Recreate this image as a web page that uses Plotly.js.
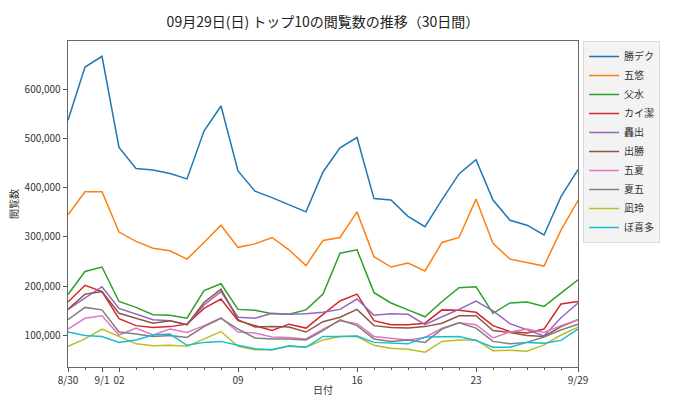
<!DOCTYPE html>
<html>
<head>
<meta charset="utf-8">
<script src="https://cdn.plot.ly/plotly-3.0.1.min.js"></script>
<style>html,body{margin:0;padding:0;background:#fff;}#chart{width:680px;height:408px;}</style>
</head>
<body>
<div id="chart"></div>
<script>
const days = ['8/30','8/31','9/1','9/2','9/3','9/4','9/5','9/6','9/7','9/8','9/9','9/10','9/11','9/12','9/13','9/14','9/15','9/16','9/17','9/18','9/19','9/20','9/21','9/22','9/23','9/24','9/25','9/26','9/27','9/28','9/29'];
const tickIdx = [0, 2, 3, 10, 17, 24, 30];
const tickLabels = ['8/30', '9/1', '02', '09', '16', '23', '9/29'];

const names = ['勝デク','五悠','父水','カイ潔','轟出','出勝','五夏','夏五','凪玲','ぼ喜多'];
const colors = ['#1f77b4','#ff7f0e','#2ca02c','#d62728','#9467bd','#8c564b','#e377c2','#7f7f7f','#bcbd22','#17becf'];

const s_katsudeku = [537000,645000,667000,482000,439000,436000,429000,418000,515000,566000,434000,393000,380000,365000,351000,432000,481000,502000,378000,375000,342000,321000,376000,428000,457000,375000,334000,324000,304000,382000,437000];
const s_goyu = [345000,392000,392000,310000,291000,277000,272000,255000,289000,324000,279000,286000,299000,274000,242000,293000,299000,351000,260000,239000,247000,231000,289000,299000,377000,287000,255000,248000,241000,314000,374000];
const s_fusui = [183000,230000,239000,169000,157000,142000,141000,135000,191000,205000,153000,151000,144000,143000,152000,184000,267000,274000,187000,166000,152000,138000,169000,197000,199000,145000,166000,168000,159000,186000,213000];
const s_kaiisagi = [168000,202000,189000,134000,120000,116000,118000,123000,155000,174000,130000,120000,110000,123000,115000,143000,170000,184000,130000,122000,122000,125000,152000,151000,147000,120000,108000,105000,113000,164000,169000];
const s_todode = [153000,176000,199000,155000,143000,132000,130000,122000,162000,189000,137000,135000,145000,143000,144000,147000,153000,174000,141000,144000,143000,122000,138000,153000,170000,150000,124000,111000,99000,136000,166000];
const s_dekatsu = [153000,184000,189000,145000,135000,125000,130000,122000,167000,194000,132000,117000,118000,117000,107000,128000,137000,153000,120000,116000,115000,118000,125000,140000,140000,110000,106000,100000,98000,118000,132000];
const s_gonatsu = [113000,135000,140000,101000,115000,101000,113000,106000,120000,136000,107000,105000,97000,96000,93000,113000,130000,124000,98000,95000,91000,96000,115000,126000,122000,95000,107000,113000,106000,120000,132000];
const s_natsugo = [132000,157000,152000,107000,103000,98000,100000,96000,118000,135000,113000,95000,93000,93000,91000,110000,132000,120000,93000,88000,91000,86000,113000,126000,115000,88000,83000,86000,97000,111000,123000];
const s_nagirei = [78000,93000,113000,98000,83000,79000,80000,78000,93000,108000,78000,71000,71000,78000,76000,91000,98000,98000,80000,74000,72000,66000,88000,91000,91000,69000,70000,68000,81000,101000,117000];
const s_bokita = [107000,100000,98000,86000,91000,101000,103000,80000,86000,88000,80000,73000,71000,79000,76000,98000,98000,99000,86000,84000,83000,97000,98000,98000,90000,76000,76000,86000,84000,90000,113000];

const seriesList = [s_katsudeku,s_goyu,s_fusui,s_kaiisagi,s_todode,s_dekatsu,s_gonatsu,s_natsugo,s_nagirei,s_bokita];
const xIdx = days.map((d, i) => i);

const traces = seriesList.map((vals, k) => ({
  type: 'scatter',
  mode: 'lines',
  x: xIdx,
  y: vals,
  text: days,
  name: names[k],
  line: {color: colors[k], width: 1.5},
  hovertemplate: '%{text}: %{y:,}<extra>' + names[k] + '</extra>'
}));

const fontFam = '"Noto Sans CJK JP", "Noto Sans", sans-serif';

const layout = {
  width: 680,
  height: 408,
  margin: {l: 68, r: 102, t: 41, b: 41},
  paper_bgcolor: '#ffffff',
  plot_bgcolor: '#ffffff',
  font: {family: fontFam, size: 10, color: '#333'},
  title: {
    text: '09月29日(日) トップ10の閲覧数の推移（30日間）',
    font: {family: fontFam, size: 14, color: '#222'},
    x: 0.475, xanchor: 'center', y: 0.945, yanchor: 'middle'
  },
  xaxis: {
    range: [0, 30],
    tickvals: tickIdx,
    ticktext: tickLabels,
    ticks: 'outside', ticklen: 4, tickwidth: 1, tickcolor: '#555',
    minor: {dtick: 1, tick0: 0, ticks: 'outside', ticklen: 2, tickcolor: '#555', showgrid: false},
    showgrid: false, zeroline: false,
    showline: true, linecolor: '#666', linewidth: 1.3, mirror: true,
    tickfont: {size: 10, color: '#333'},
    title: {text: '日付', font: {size: 10, color: '#333'}, standoff: 0}
  },
  yaxis: {
    range: [36000, 698000],
    tickvals: [100000, 200000, 300000, 400000, 500000, 600000],
    tickformat: ',d',
    ticks: 'outside', ticklen: 4, tickwidth: 1, tickcolor: '#555',
    showgrid: false, zeroline: false,
    showline: true, linecolor: '#666', linewidth: 1.3, mirror: true,
    tickfont: {size: 10, color: '#333'},
    title: {text: '閲覧数', font: {size: 10, color: '#333'}, standoff: 4}
  },
  legend: {
    x: 1.01, xanchor: 'left', y: 1.0, yanchor: 'top',
    bgcolor: 'rgba(242,242,242,0.9)', bordercolor: '#dcdcdc', borderwidth: 1,
    font: {size: 10, color: '#333'},
    itemwidth: 30,
    tracegroupgap: 0
  },
  showlegend: true
};

Plotly.newPlot('chart', traces, layout, {displayModeBar: false, staticPlot: true});
</script>
</body>
</html>
